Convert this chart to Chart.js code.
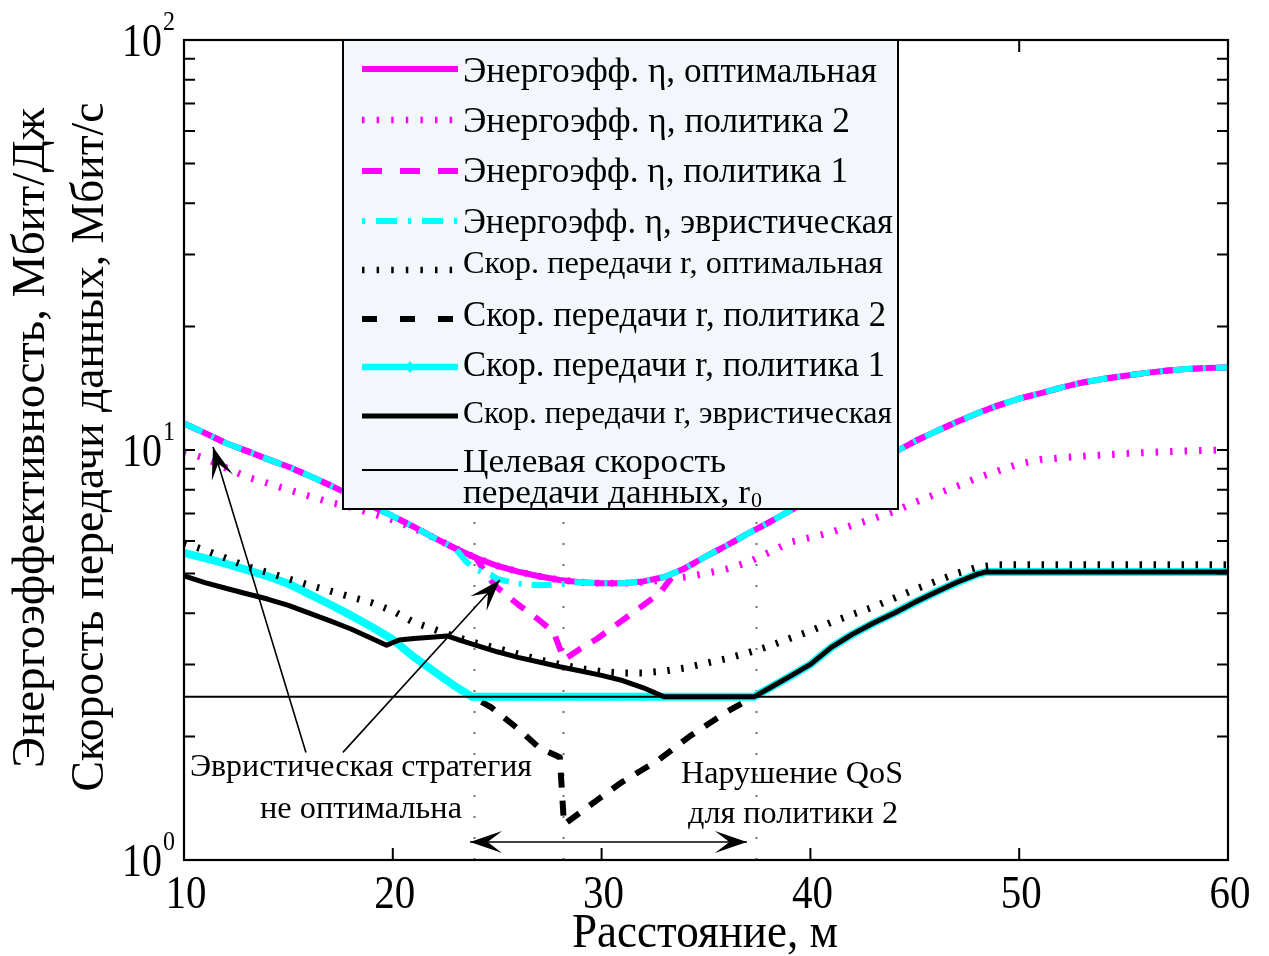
<!DOCTYPE html>
<html>
<head>
<meta charset="utf-8">
<script src="https://cdn.jsdelivr.net/npm/chart.js@4.4.1/dist/chart.umd.min.js"></script>
<style>
  html, body { margin: 0; padding: 0; background: #ffffff; }
  canvas { display: block; }
</style>
</head>
<body>
<canvas id="chart" width="1269" height="956"></canvas>
<script>
// ---- data: distance (m) and the curves along it ----
const distances = [10,11,12,13,14,15,16,17,18,19,20,21,22,23,24,25,26,27,28,29,30,31,32,33,34,35,36,37,38,39,40,41,42,43,44,45,46,47,48,49,50,51,52,53,54,55,56,57,58,59,60];

// energy efficiency, Mbit/J
const effOptimal = [11.6,11.0,10.4,9.95,9.5,9.1,8.65,8.2,7.75,7.3,6.9,6.5,6.1,5.75,5.45,5.22,5.05,4.92,4.82,4.76,4.73,4.73,4.78,4.9,5.15,5.5,5.85,6.25,6.65,7.1,7.6,8.1,8.65,9.25,9.85,10.5,11.1,11.7,12.3,12.85,13.35,13.75,14.2,14.6,14.9,15.15,15.4,15.6,15.75,15.85,15.9];
const effPolicy2 = [9.9,9.55,9.05,8.6,8.3,8.0,7.72,7.45,7.25,7.0,6.75,6.45,6.1,5.75,5.45,5.22,5.05,4.92,4.82,4.76,4.73,4.73,4.76,4.82,4.9,5.0,5.13,5.32,5.62,5.95,6.12,6.3,6.55,6.8,7.08,7.45,7.8,8.15,8.55,8.9,9.25,9.47,9.57,9.65,9.72,9.8,9.85,9.9,9.95,9.98,10.0];
const effPolicy1Dist = [10,11,12,13,14,15,16,17,18,19,20,21,22,23,24,24.5,25,26,27,27.7,28.2,29,29.8,31.2,32.8,33.3,34,35,36,37,38,39,40,41,42,43,44,45,46,47,48,49,50,51,52,53,54,55,56,57,58,59,60];
const effPolicy1 = [11.6,11.0,10.4,9.95,9.5,9.1,8.65,8.2,7.75,7.3,6.9,6.5,6.1,5.75,5.45,4.95,4.62,4.2,3.85,3.6,3.08,3.28,3.47,3.91,4.48,4.85,5.15,5.5,5.85,6.25,6.65,7.1,7.6,8.1,8.65,9.25,9.85,10.5,11.1,11.7,12.3,12.85,13.35,13.75,14.2,14.6,14.9,15.15,15.4,15.6,15.75,15.85,15.9];
const effHeurDist = [10,11,12,13,14,15,16,17,18,19,20,21,22,23,23.5,24,24.7,25,26,27,28,28.6,29,30,31,32,33,34,35,36,37,38,39,40,41,42,43,44,45,46,47,48,49,50,51,52,53,54,55,56,57,58,59,60];
const effHeuristic = [11.6,11.0,10.4,9.95,9.5,9.1,8.65,8.2,7.75,7.3,6.9,6.5,6.1,5.75,5.35,5.1,4.96,4.85,4.72,4.68,4.7,4.76,4.76,4.73,4.73,4.78,4.9,5.15,5.5,5.85,6.25,6.65,7.1,7.6,8.1,8.65,9.25,9.85,10.5,11.1,11.7,12.3,12.85,13.35,13.75,14.2,14.6,14.9,15.15,15.4,15.6,15.75,15.85,15.9];

// data rate, Mbit/s
const rateOptimal = [5.93,5.7,5.45,5.2,5.03,4.85,4.68,4.53,4.38,4.24,4.05,3.8,3.65,3.5,3.38,3.28,3.18,3.08,3.0,2.93,2.88,2.86,2.86,2.89,2.94,3.02,3.1,3.2,3.32,3.47,3.62,3.8,3.97,4.14,4.35,4.57,4.78,5.0,5.18,5.25,5.25,5.25,5.25,5.25,5.25,5.25,5.25,5.25,5.25,5.25,5.25];
const ratePolicy1Dist = [10,11,12,13,14,15,16,17,18,19,20,21,22,23,23.8,24,25,26,27,28,29,30,31,32,33,34,35,36,37,37.3,38,39,40,41,42,43,44,45,46,47,48,48.4,49,50,51,52,53,54,55,56,57,58,59,60];
const ratePolicy1 = [5.61,5.45,5.28,5.1,4.92,4.72,4.45,4.2,3.95,3.7,3.45,3.13,2.88,2.65,2.5,2.5,2.5,2.5,2.5,2.5,2.5,2.5,2.5,2.5,2.5,2.5,2.5,2.5,2.5,2.5,2.62,2.8,3.0,3.3,3.55,3.78,4.0,4.25,4.5,4.75,4.98,5.04,5.04,5.04,5.04,5.04,5.04,5.04,5.04,5.04,5.04,5.04,5.04,5.04];
const ratePolicy2Dist = [10,11,12,13,14,15,16,17,18,19,20,21,22,23,23.8,24.7,26.1,27,28,28.2,29.1,30.9,32.7,34.2,36,37.3,38,39,40,41,42,43,44,45,46,47,48,48.4,60];
const ratePolicy2 = [5.61,5.45,5.28,5.1,4.92,4.72,4.45,4.2,3.95,3.7,3.45,3.13,2.88,2.65,2.5,2.36,2.07,1.88,1.78,1.22,1.32,1.54,1.75,2.0,2.3,2.5,2.62,2.8,3.0,3.3,3.55,3.78,4.0,4.25,4.5,4.75,4.98,5.04,5.04];
const rateHeurDist = [10,11,12,13,14,15,16,17,18,19,19.7,20.3,21,22,22.6,23.2,24,25,26,27,28,29,30,31,32,33,37.3,38,39,40,41,42,43,44,45,46,47,48,48.4,60];
const rateHeuristic = [4.93,4.75,4.6,4.46,4.33,4.18,4.0,3.83,3.66,3.47,3.34,3.44,3.47,3.5,3.52,3.44,3.34,3.22,3.12,3.04,2.96,2.89,2.82,2.74,2.63,2.5,2.5,2.62,2.8,3.0,3.3,3.55,3.78,4.0,4.25,4.5,4.75,4.98,5.04,5.04];
const targetDist = [10, 60];
const targetRate = [2.5, 2.5];

// boundaries of the marked distance ranges
const markerDistances = [23.9, 28.15, 37.4];

// axis ticks
const xTickValues = [10, 20, 30, 40, 50, 60];
const xTickLabels = ['10', '20', '30', '40', '50', '60'];
const yDecades = [1, 10, 100];
const yDecadeExponents = ['0', '1', '2'];
const yMinorValues = [2,3,4,5,6,7,8,9,20,30,40,50,60,70,80,90];

const legendLabels = [
  'Энергоэфф. η, оптимальная',
  'Энергоэфф. η, политика 2',
  'Энергоэфф. η, политика 1',
  'Энергоэфф. η, эвристическая',
  'Скор. передачи r, оптимальная',
  'Скор. передачи r, политика 2',
  'Скор. передачи r, политика 1',
  'Скор. передачи r, эвристическая',
  'Целевая скорость',
];
const legendSecondLine = 'передачи данных, r';
const legendSubscript = '0';

const xTitle = 'Расстояние, м';
const yTitleLines = ['Энергоэффективность, Мбит/Дж', 'Скорость передачи данных, Мбит/с'];
const noteHeuristic = ['Эвристическая стратегия', 'не оптимальна'];
const noteQoS = ['Нарушение QoS', 'для политики 2'];

// ---- drawing ----
const FONT = '"Liberation Serif", "Times New Roman", serif';
const MAGENTA = '#ff00ff';
const CYAN = '#00ffff';

function pairs(xs, ys) {
  return xs.map((x, i) => ({ x: x, y: ys[i] }));
}

// text squeezed/stretched horizontally to a given width
function fitText(ctx, str, x, y, size, width, align) {
  ctx.save();
  ctx.font = size + 'px ' + FONT;
  const w = ctx.measureText(str).width;
  ctx.translate(x, y);
  ctx.scale(width / w, 1);
  ctx.textAlign = align || 'left';
  ctx.textBaseline = 'alphabetic';
  ctx.fillStyle = '#000';
  ctx.fillText(str, 0, 0);
  ctx.restore();
}

function arrowHead(ctx, tx, ty, fx, fy) {
  const L = 32, W = 11, notch = 0.55;
  const dx = tx - fx, dy = ty - fy, len = Math.hypot(dx, dy);
  const ux = dx / len, uy = dy / len, nx = -uy, ny = ux;
  ctx.beginPath();
  ctx.moveTo(tx, ty);
  ctx.lineTo(tx - L * ux + W * nx, ty - L * uy + W * ny);
  ctx.lineTo(tx - notch * L * ux, ty - notch * L * uy);
  ctx.lineTo(tx - L * ux - W * nx, ty - L * uy - W * ny);
  ctx.closePath();
  ctx.fill();
}

function arrow(ctx, x1, y1, x2, y2, both) {
  ctx.save();
  ctx.strokeStyle = '#000';
  ctx.fillStyle = '#000';
  ctx.lineWidth = 1.6;
  ctx.setLineDash([]);
  ctx.beginPath();
  ctx.moveTo(x1, y1);
  ctx.lineTo(x2, y2);
  ctx.stroke();
  arrowHead(ctx, x2, y2, x1, y1);
  if (both) arrowHead(ctx, x1, y1, x2, y2);
  ctx.restore();
}

const datasets = [
  { label: legendLabels[0], data: pairs(distances, effOptimal), borderColor: MAGENTA, borderWidth: 6, order: 6, legendDash: [] },
  { label: legendLabels[1], data: pairs(distances, effPolicy2), borderColor: MAGENTA, borderWidth: 7, borderDash: [2.5, 12], order: 7, legendDash: [2.5, 12.1] },
  { label: legendLabels[2], data: pairs(effPolicy1Dist, effPolicy1), borderColor: MAGENTA, borderWidth: 6, borderDash: [16, 13], order: 5, legendDash: [20, 18] },
  { label: legendLabels[3], data: pairs(effHeurDist, effHeuristic), borderColor: CYAN, borderWidth: 6, borderDash: [20, 10, 3, 10], order: 4, legendDash: [3, 11, 21, 11] },
  { label: legendLabels[4], data: pairs(distances, rateOptimal), borderColor: '#000', borderWidth: 7, borderDash: [2.5, 11.5], order: 2, legendDash: [2.5, 12.1] },
  { label: legendLabels[5], data: pairs(ratePolicy2Dist, ratePolicy2), borderColor: '#000', borderWidth: 6, borderDash: [15, 13], order: 8, legendDash: [15, 23] },
  { label: legendLabels[6], data: pairs(ratePolicy1Dist, ratePolicy1), borderColor: CYAN, backgroundColor: CYAN, borderWidth: 8, order: 3,
    pointStyle: 'rectRot', pointRadius: 3.5, pointBorderWidth: 1, pointBackgroundColor: CYAN, pointBorderColor: CYAN, legendDash: [], legendMarker: true },
  { label: legendLabels[7], data: pairs(rateHeurDist, rateHeuristic), borderColor: '#000', borderWidth: 5, order: 1, legendDash: [] },
  { label: legendLabels[8], data: pairs(targetDist, targetRate), borderColor: '#000', borderWidth: 2, order: 0, legendDash: [] },
];
datasets.forEach(d => {
  d.fill = false;
  d.tension = 0;
  if (d.pointRadius === undefined) d.pointRadius = 0;
  d.pointHoverRadius = 0;
  d.borderCapStyle = 'butt';
  d.borderJoinStyle = 'round';
});

// legend rows: text baseline, line height, text size and width
const legendRows = [
  { y: 82,  ly: 69,  size: 35, width: 414 },
  { y: 132, ly: 120, size: 35, width: 387 },
  { y: 182, ly: 171, size: 35, width: 385 },
  { y: 233, ly: 221, size: 35, width: 430 },
  { y: 273, ly: 270, size: 31, width: 420 },
  { y: 326, ly: 319, size: 35, width: 423 },
  { y: 376, ly: 367, size: 35, width: 422 },
  { y: 423, ly: 416, size: 31, width: 429 },
  { y: 472, ly: 470, size: 34, width: 263 },
];

const figurePlugin = {
  id: 'figure',
  beforeDatasetsDraw(chart) {
    const ctx = chart.ctx, xs = chart.scales.x, area = chart.chartArea;
    ctx.save();
    ctx.strokeStyle = '#707070';
    ctx.lineWidth = 2;
    ctx.setLineDash([2, 19]);
    markerDistances.forEach(d => {
      const px = Math.round(xs.getPixelForValue(d)) + 0.5;
      ctx.beginPath();
      ctx.moveTo(px, area.bottom);
      ctx.lineTo(px, area.top);
      ctx.stroke();
    });
    ctx.restore();
  },
  afterDatasetsDraw(chart) {
    const ctx = chart.ctx, xs = chart.scales.x, ys = chart.scales.y, a = chart.chartArea;
    ctx.save();

    // frame
    ctx.strokeStyle = '#000';
    ctx.lineWidth = 2.2;
    ctx.setLineDash([]);
    ctx.strokeRect(a.left, a.top, a.right - a.left, a.bottom - a.top);

    // inward ticks
    ctx.lineWidth = 2;
    ctx.beginPath();
    xTickValues.forEach(v => {
      const px = xs.getPixelForValue(v);
      ctx.moveTo(px, a.bottom); ctx.lineTo(px, a.bottom - 12);
      ctx.moveTo(px, a.top); ctx.lineTo(px, a.top + 12);
    });
    yDecades.concat(yMinorValues).forEach(v => {
      const py = ys.getPixelForValue(v);
      ctx.moveTo(a.left, py); ctx.lineTo(a.left + 11, py);
      ctx.moveTo(a.right, py); ctx.lineTo(a.right - 11, py);
    });
    ctx.stroke();

    // tick labels
    xTickValues.forEach((v, i) => {
      fitText(ctx, xTickLabels[i], xs.getPixelForValue(v) + 2, a.bottom + 48, 47, 41, 'center');
    });
    yDecades.forEach((v, i) => {
      const py = ys.getPixelForValue(v);
      fitText(ctx, '10', 162, py + 16, 47, 40, 'right');
      fitText(ctx, yDecadeExponents[i], 163, py - 10, 27, 12, 'left');
    });

    // axis titles
    fitText(ctx, xTitle, 705, 947, 48, 266, 'center');
    const yTitlePos = [{ x: 44, y: 438, w: 660 }, { x: 103, y: 447, w: 689 }];
    yTitleLines.forEach((t, i) => {
      ctx.save();
      ctx.translate(yTitlePos[i].x, yTitlePos[i].y);
      ctx.rotate(-Math.PI / 2);
      fitText(ctx, t, 0, 0, 46, yTitlePos[i].w, 'center');
      ctx.restore();
    });

    // annotations
    const P = (dx, v) => [xs.getPixelForValue(dx), ys.getPixelForValue(v)];
    const t1 = P(15.84, 1.83), h1 = P(11.39, 10.17);
    const t2 = P(17.61, 1.83), h2 = P(25.13, 4.82);
    arrow(ctx, t1[0], t1[1], h1[0], h1[1], false);
    arrow(ctx, t2[0], t2[1], h2[0], h2[1], false);
    const s1 = P(23.7, 1.106), s2 = P(36.96, 1.106);
    arrow(ctx, s1[0], s1[1], s2[0], s2[1], true);
    fitText(ctx, noteHeuristic[0], 361, 776, 32, 342, 'center');
    fitText(ctx, noteHeuristic[1], 361, 818, 32, 202, 'center');
    fitText(ctx, noteQoS[0], 792, 783, 32, 222, 'center');
    fitText(ctx, noteQoS[1], 793, 823, 32, 210, 'center');

    // legend
    const lx0 = 343, ly0 = a.top, lx1 = 898, ly1 = 509;
    ctx.fillStyle = '#f3f6fb';
    ctx.fillRect(lx0, ly0, lx1 - lx0, ly1 - ly0);
    ctx.strokeStyle = '#000';
    ctx.lineWidth = 2;
    ctx.setLineDash([]);
    ctx.strokeRect(lx0, ly0, lx1 - lx0, ly1 - ly0);
    legendRows.forEach((r, i) => {
      const ds = chart.data.datasets[i];
      ctx.save();
      ctx.strokeStyle = ds.borderColor;
      ctx.lineWidth = Math.min(ds.borderWidth, 6.5);
      ctx.lineCap = 'butt';
      ctx.setLineDash(ds.legendDash);
      ctx.beginPath();
      ctx.moveTo(362, r.ly);
      ctx.lineTo(458, r.ly);
      ctx.stroke();
      if (ds.legendMarker) {
        ctx.fillStyle = ds.borderColor;
        ctx.setLineDash([]);
        ctx.beginPath();
        ctx.moveTo(410, r.ly - 6); ctx.lineTo(415, r.ly); ctx.lineTo(410, r.ly + 6); ctx.lineTo(405, r.ly);
        ctx.closePath();
        ctx.fill();
      }
      ctx.restore();
      fitText(ctx, legendLabels[i], 463, r.y, r.size, r.width, 'left');
    });
    fitText(ctx, legendSecondLine, 463, 503, 34, 287, 'left');
    fitText(ctx, legendSubscript, 751, 507, 21, 11, 'left');

    ctx.restore();
  }
};

new Chart(document.getElementById('chart'), {
  type: 'line',
  data: { datasets: datasets },
  options: {
    responsive: false,
    animation: false,
    devicePixelRatio: 1,
    events: [],
    layout: { padding: { left: 184, right: 41, top: 40, bottom: 96 } },
    plugins: { legend: { display: false }, tooltip: { enabled: false } },
    scales: {
      x: { type: 'linear', min: 10, max: 60, display: false },
      y: { type: 'logarithmic', min: 1, max: 100, display: false }
    }
  },
  plugins: [figurePlugin]
});
</script>
</body>
</html>
